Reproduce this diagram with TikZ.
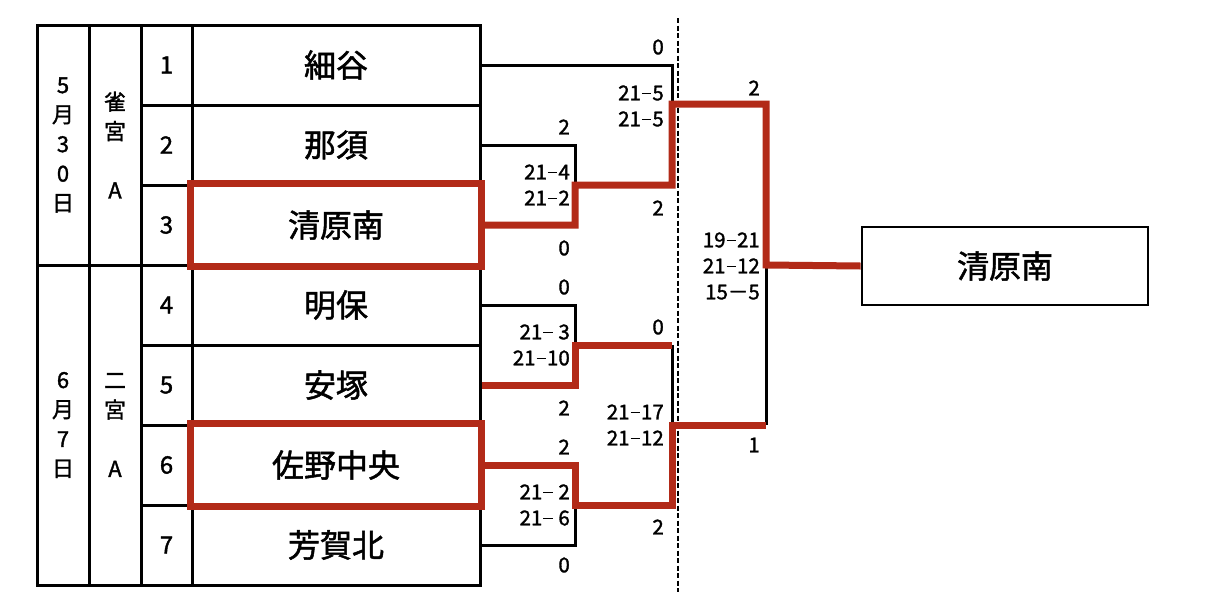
\documentclass[tikz,border=0pt]{standalone}
\usepackage{fontspec}
\setmainfont{Noto Sans CJK JP}[FakeBold=1.5]
\usetikzlibrary{positioning, calc}
\definecolor{winred}{RGB}{178,42,24}
\newcommand{\sdash}{\makebox[0.56em]{\rule[0.3em]{0.46em}{0.08em}}}

\begin{document}
\begin{tikzpicture}[x=1pt, y=-1pt,
    cell/.style={draw=black, line width=3pt, inner sep=0pt, align=center},
    team/.style={cell, minimum width=288pt, minimum height=80pt, font=\fontsize{32}{32}\selectfont},
    seed/.style={cell, minimum width=51pt, minimum height=80pt, font=\fontsize{24}{24}\selectfont},
    side/.style={cell, minimum width=52pt, font=\fontsize{22}{29.5}\selectfont},
    score/.style={anchor=east, inner sep=0pt, align=right, font=\fontsize{20.5}{26}\selectfont},
    link/.style={line width=3pt},
    win/.style={draw=winred, line width=7pt}]
        \useasboundingbox (0,0) rectangle (1232,614);

        % table
        \node[side, minimum height=240pt] (d1) at (63,145) {5\\月\\3\\0\\日};
        \node[side, minimum height=320pt] (d2) at (63,425) {6\\月\\7\\日};
        \node[side, minimum height=240pt] (v1) at (115,145) {雀\\宮\\[29.5pt]A};
        \node[side, minimum height=320pt] (v2) at (115,425) {二\\宮\\[29.5pt]A};

        \node[seed] (n1) at (166.5,65) {1};
        \node[seed] (n2) at (166.5,145) {2};
        \node[seed] (n3) at (166.5,225) {3};
        \node[seed] (n4) at (166.5,305) {4};
        \node[seed] (n5) at (166.5,385) {5};
        \node[seed] (n6) at (166.5,465) {6};
        \node[seed] (n7) at (166.5,545) {7};

        \node[team] (t1) at (336,65) {細谷};
        \node[team] (t2) at (336,145) {那須};
        \node[team] (t3) at (336,225) {清原南};
        \node[team] (t4) at (336,305) {明保};
        \node[team] (t5) at (336,385) {安塚};
        \node[team] (t6) at (336,465) {佐野中央};
        \node[team] (t7) at (336,545) {芳賀北};

        \node[cell, line width=2.8pt, minimum width=286pt, minimum height=78pt,
              font=\fontsize{32}{32}\selectfont] (champ) at (1005,266) {清原南};

        \draw[line width=1.8pt, dash pattern=on 5pt off 2.5pt] (678,18) -- (678,592);

        % match points
        \coordinate (mA) at (575,185);
        \coordinate (mB) at (575,345);
        \coordinate (mC) at (575,505);
        \coordinate (mD) at (672,104);
        \coordinate (mE) at (672,425);
        \coordinate (mF) at (766,265);

        % losing sides
        \draw[link] (t1.east) -| (mD);
        \draw[link] (t2.east) -| (mA);
        \draw[link] (t4.east) -| (mB);
        \draw[link] (t7.east) -| (mC);
        \draw[link] (mB -| mE) -- (mE);
        \draw[link] (mE -| mF) -- (mF);

        % winners
        \draw[win] (t3.south west) rectangle (t3.north east);
        \draw[win] (t6.south west) rectangle (t6.north east);
        \draw[win] (t3.east) -| (mA) -- (mA -| mD) -- (mD) -- (mD -| mF) -- (mF) -- (champ.west);
        \draw[win] (t5.east) -| (mB) -- (mB -| mE);
        \draw[win] (t6.east) -| (mC) -- (mC -| mE) -- (mE) -- (mE -| mF);

        % scores
        \node[score] (s1) at (664,47) {0};
        \node[score] (s2) at (664,106) {21\sdash5\\21\sdash5};
        \node[score] (s3) at (664,208) {2};
        \node[score] (s4) at (570,127) {2};
        \node[score] (s5) at (570,185) {21\sdash4\\21\sdash2};
        \node[score] (s6) at (570,248) {0};
        \node[score] (s7) at (570,287) {0};
        \node[score] (s8) at (570,345) {21\sdash\ 3\\21\sdash10};
        \node[score] (s9) at (570,408) {2};
        \node[score] (s10) at (664,327) {0};
        \node[score] (s11) at (664,425) {21\sdash17\\21\sdash12};
        \node[score] (s12) at (664,527) {2};
        \node[score] (s13) at (570,447) {2};
        \node[score] (s14) at (570,505) {21\sdash\ 2\\21\sdash\ 6};
        \node[score] (s15) at (570,565) {0};
        \node[score] (s16) at (760,88) {2};
        \node[score] (s17) at (760,266) {19\sdash21\\21\sdash12\\15－5};
        \node[score] (s18) at (760,445) {1};
\end{tikzpicture}
\end{document}
